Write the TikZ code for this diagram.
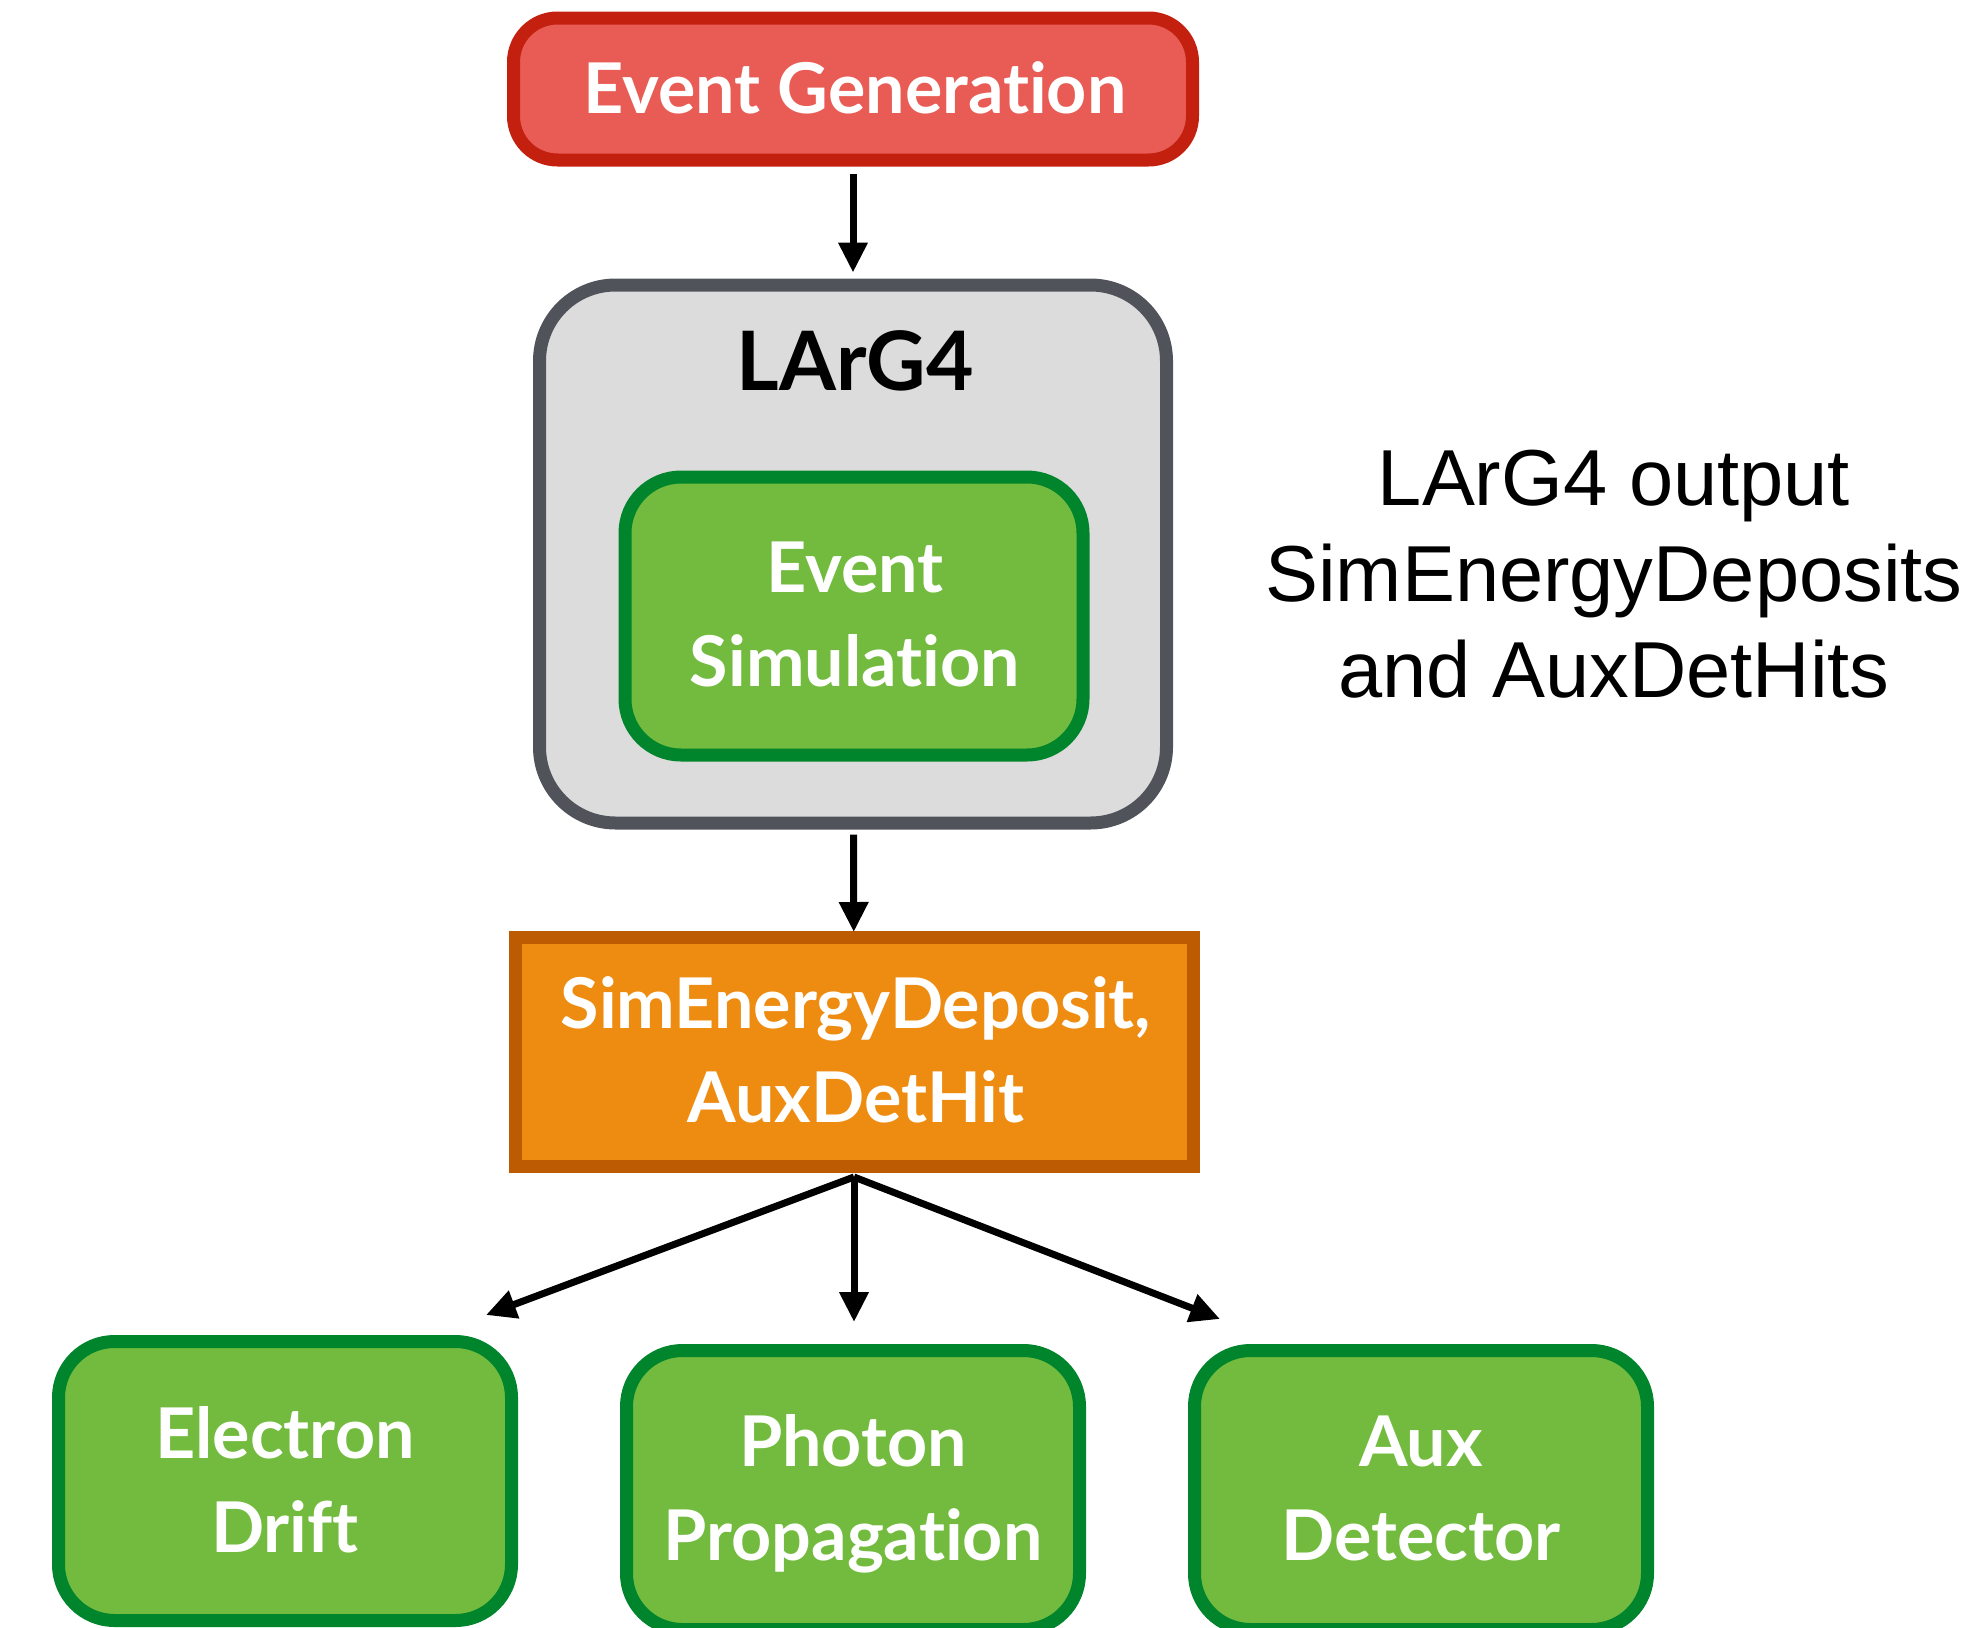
\documentclass[tikz,border=0pt]{standalone}
\usepackage{fontspec}
\newfontfamily\boxfont{Lato}[Ligatures=NoCommon]
\newfontfamily\helv{Liberation Sans}
\usetikzlibrary{arrows.meta}
\definecolor{genfill}{HTML}{E85C55}
\definecolor{genline}{HTML}{C42010}
\definecolor{grayfill}{HTML}{DCDCDC}
\definecolor{grayline}{HTML}{50545A}
\definecolor{grnfill}{HTML}{72BB3E}
\definecolor{grnline}{HTML}{00852D}
\definecolor{orgfill}{HTML}{EE8C11}
\definecolor{orgline}{HTML}{BD5B02}
\tikzset{
  box/.style={draw, line width=6.5pt, inner sep=0pt},
  redbox/.style={box, fill=genfill, draw=genline, rounded corners=22pt, minimum width=339.5pt, minimum height=71pt},
  graybox/.style={box, fill=grayfill, draw=grayline, rounded corners=38pt, minimum width=313.5pt, minimum height=269pt},
  grnbox/.style={box, fill=grnfill, draw=grnline, rounded corners=28pt, minimum width=229pt, minimum height=139pt},
  botbox/.style={box, fill=grnfill, draw=grnline, rounded corners=28pt, minimum width=226.5pt, minimum height=139.5pt},
  orgbox/.style={box, fill=orgfill, draw=orgline, minimum width=339pt, minimum height=114.5pt},
  btxt/.style={text=white, font=\boxfont\bfseries\fontsize{35}{47}\selectfont, align=center, anchor=base, inner sep=0pt},
  arr/.style={line width=3.5pt, -{Triangle[length=15pt,width=14pt]}},
}
\begin{document}
\begin{tikzpicture}[x=0.5pt, y=-0.5pt]
\useasboundingbox (0,0) rectangle (1988,1628);
\clip (0,0) rectangle (1988,1628);
% boxes
\node[redbox] (gen) at (853,89) {};
\node[graybox] (larg) at (853,554) {};
\node[grnbox] (sim) at (854,616) {};
\node[orgbox] (dep) at (854,1052) {};
\node[botbox] (elec) at (285,1481) {};
\node[botbox] (phot) at (853,1490) {};
\node[botbox] (aux) at (1421,1490) {};
% texts (anchor base = last line baseline)
\node[btxt] (genT) at (855,113) {Event Generation};
\node[anchor=base, inner sep=0pt, font=\boxfont\bfseries\fontsize{41}{48}\selectfont] (largT) at (855,390) {LArG4};
\node[btxt] (simT) at (855,686) {Event\\Simulation};
\node[btxt] (depT) at (856,1122) {SimEnergyDeposit,\\AuxDetHit};
\node[btxt] (elecT) at (285,1552) {Electron\\Drift};
\node[btxt] (photT) at (853,1560) {Photon\\Propagation};
\node[btxt] (auxT) at (1421,1560) {Aux\\Detector};
\node[anchor=base, inner sep=0pt, align=center, font=\helv\fontsize{39.7}{48}\selectfont] (note) at (1614,697) {LArG4 output\\SimEnergyDeposits\\and AuxDetHits};
% connectors
\draw[arr, shorten <=3.5pt, shorten >=3pt] (gen) -- (larg);
\draw[arr, shorten <=2.5pt, shorten >=-0.5pt] (larg) -- (dep);
\coordinate (fanO) at ([yshift=-2pt]dep.south);
\coordinate (tipL) at (486,1315);
\coordinate (tipM) at (854,1322);
\coordinate (tipR) at (1220,1319);
\draw[arr] (fanO) -- (tipL);
\draw[arr] (fanO) -- (tipM);
\draw[arr] (fanO) -- (tipR);
\end{tikzpicture}
\end{document}
